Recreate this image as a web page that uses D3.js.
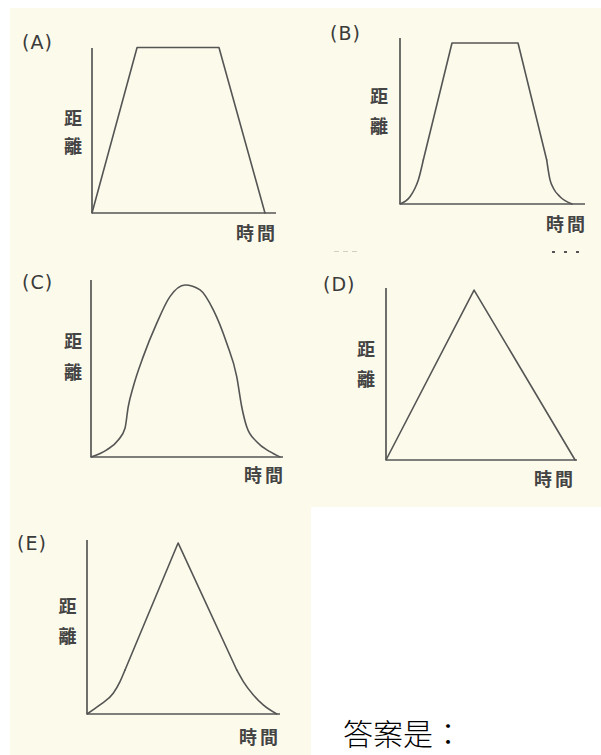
<!DOCTYPE html>
<html>
<head>
<meta charset="utf-8">
<script src="https://cdn.jsdelivr.net/npm/d3@7/dist/d3.min.js"></script>
<style>
  html, body { margin: 0; padding: 0; background: #ffffff; }
  svg { display: block; }
</style>
</head>
<body>
<svg id="chart" width="601" height="755"></svg>
<script>
// ---------------- DATA (time, distance), both on a 0–10 relative scale ----------------
const panels = ["A", "B", "C", "D", "E"];
const yLabel = ["距", "離"];
const xLabel = "時間";
const answerText = "答案是：";

const curveA = [[0, 0], [2.45, 10.03], [6.9, 10.03], [9.4, 0]];
const curveB = [[0, 0], [0.54, 0.44], [0.81, 0.95], [0.99, 1.45], [1.26, 2.65], [2.81, 9.7],
                [6.38, 9.7], [7.93, 2.65], [8.11, 1.45], [8.29, 0.95], [8.65, 0.44], [9.3, 0]];
const curveC = [[0, 0], [0.82, 0.4], [1.42, 0.96], [1.77, 1.62], [1.94, 2.84], [2.2, 3.97],
                [2.72, 5.67], [3.42, 7.55], [4.11, 9.06], [4.9, 9.72], [5.68, 9.44], [6.37, 8.31],
                [7.07, 6.42], [7.59, 4.54], [7.85, 2.84], [8.11, 1.71], [8.63, 0.86], [9.32, 0.3], [9.84, 0]];
const curveD = [[0, 0], [4.61, 9.88], [9.9, 0]];
const curveE = [[0, 0], [0.67, 0.52], [1.36, 1.19], [1.71, 1.86], [1.97, 2.53], [4.72, 9.83],
                [7.76, 2.53], [8.1, 1.86], [8.62, 1.09], [9.13, 0.52], [9.83, 0]];
const curves = { A: curveA, B: curveB, C: curveC, D: curveD, E: curveE };

// ---------------- LAYOUT / STYLE ----------------
// segments: [startIndex, endIndex, smooth?]
const layout = {
  A: { ox: 92,  oy: 213, xe: 276, yt: 48,  letter: [22, 41.5],  ju: [73, 116.5], li: [73, 145],   time: [278, 231.5],
       segs: [[0, 3, false]] },
  B: { ox: 400, oy: 204, xe: 585, yt: 38,  letter: [330, 33],   ju: [379, 94.5], li: [379, 124.5], time: [588, 222.5],
       segs: [[0, 4, true], [4, 7, false], [7, 11, true]] },
  C: { ox: 91,  oy: 457, xe: 283, yt: 280, letter: [22, 282],   ju: [73, 339.5], li: [73, 370.5], time: [286, 474],
       segs: [[0, 18, true]] },
  D: { ox: 386, oy: 460, xe: 577, yt: 288, letter: [323, 284],  ju: [366, 347.5], li: [366, 377.5], time: [576, 477.5],
       segs: [[0, 2, false]] },
  E: { ox: 87,  oy: 714, xe: 280, yt: 540, letter: [17, 542.5], ju: [67.5, 605], li: [67.5, 635],   time: [281, 736],
       segs: [[0, 4, true], [4, 6, false], [6, 10, true]] }
};

const ink = "#555555";
const textInk = "#444444";
const cream = "#fcfaea";
const cjk = "'Noto Sans CJK TC', 'Noto Sans CJK SC', sans-serif";

const svg = d3.select("#chart");

// background: scanned (cream) area with white margins and a white lower-right block
svg.append("rect").attr("x", 0).attr("y", 0).attr("width", 601).attr("height", 755).attr("fill", "#ffffff");
svg.append("rect").attr("x", 10).attr("y", 8).attr("width", 591).attr("height", 747).attr("fill", cream);
svg.append("rect").attr("x", 311).attr("y", 507).attr("width", 290).attr("height", 248).attr("fill", "#ffffff");

// faint scan marks below panel B
svg.append("g").selectAll("rect").data([552, 564, 576]).join("rect")
  .attr("x", d => d).attr("y", 251).attr("width", 3).attr("height", 2).attr("fill", "#555");
svg.append("g").selectAll("rect").data([334, 343, 352]).join("rect")
  .attr("x", d => d).attr("y", 251).attr("width", 5).attr("height", 1).attr("fill", "#cfcfc4");

panels.forEach(p => {
  const L = layout[p];
  const x = d3.scaleLinear().domain([0, 10]).range([L.ox, L.xe]);
  const y = d3.scaleLinear().domain([0, 10]).range([L.oy, L.yt]);
  const g = svg.append("g").attr("class", "panel-" + p);

  // axes
  g.append("line").attr("x1", x(0)).attr("y1", y(0)).attr("x2", x(10)).attr("y2", y(0))
    .attr("stroke", ink).attr("stroke-width", 1.7);
  g.append("line").attr("x1", x(0)).attr("y1", y(0)).attr("x2", x(0)).attr("y2", y(10))
    .attr("stroke", ink).attr("stroke-width", 1.7);

  // curve, drawn segment by segment (smooth parts vs straight parts)
  const pts = curves[p];
  L.segs.forEach(([s, e, smooth]) => {
    const line = d3.line().x(d => x(d[0])).y(d => y(d[1]))
      .curve(smooth ? d3.curveMonotoneX : d3.curveLinear);
    g.append("path").attr("d", line(pts.slice(s, e + 1)))
      .attr("fill", "none").attr("stroke", ink).attr("stroke-width", 1.6)
      .attr("stroke-linejoin", "round").attr("stroke-linecap", "round");
  });

  // panel letter
  g.append("text").attr("x", L.letter[0]).attr("y", L.letter[1])
    .attr("dominant-baseline", "central")
    .attr("font-family", "'DejaVu Sans', sans-serif").attr("font-size", 19)
    .attr("letter-spacing", 1).attr("fill", "#3a3a3a")
    .text("(" + p + ")");

  // y label 距 / 離
  [L.ju, L.li].forEach((pos, i) => {
    g.append("text").attr("x", pos[0]).attr("y", pos[1])
      .attr("text-anchor", "middle").attr("dominant-baseline", "central")
      .attr("font-family", cjk).attr("font-weight", 700).attr("font-size", 18)
      .attr("fill", textInk).text(yLabel[i]);
  });

  // x label 時間
  g.append("text").attr("x", L.time[0]).attr("y", L.time[1])
    .attr("text-anchor", "end").attr("dominant-baseline", "central")
    .attr("font-family", cjk).attr("font-weight", 700).attr("font-size", 18)
    .attr("letter-spacing", 3).attr("fill", textInk).text(xLabel);
});

// answer prompt
svg.append("text").attr("x", 343).attr("y", 745)
  .attr("font-family", cjk).attr("font-weight", 300).attr("font-size", 30)
  .attr("fill", "#000").text(answerText);
</script>
</body>
</html>
